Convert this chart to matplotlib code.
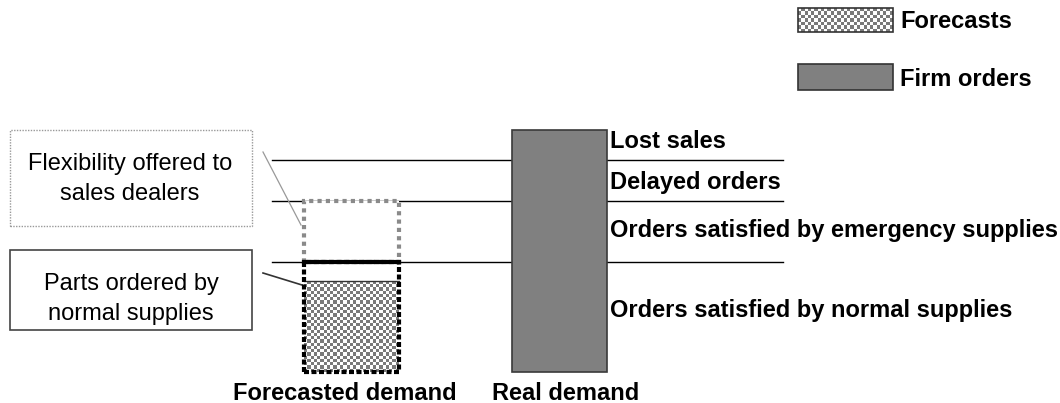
import numpy as np
import matplotlib
matplotlib.use("Agg")
import matplotlib.pyplot as plt
from matplotlib.patches import Rectangle

plt.rcParams['font.family'] = ['Liberation Sans', 'DejaVu Sans']

# ---- data (levels measured from the bar baseline) ----
categories = ["Forecasted demand", "Real demand"]
forecast_checkered = 91      # parts ordered by normal supplies (forecast part)
parts_ordered = 110          # normal supply level
flexibility_top = 171        # flexibility offered to sales dealers
delayed_limit = 212          # upper limit for delayed orders
real_demand = 242            # firm orders
level_labels = ["Lost sales", "Delayed orders",
                "Orders satisfied by emergency supplies",
                "Orders satisfied by normal supplies"]
legend_labels = ["Forecasts", "Firm orders"]
box_labels = ["Flexibility offered to\nsales dealers", "Parts ordered by\nnormal supplies"]

W, H = 1060, 403
base_px = 372
fig = plt.figure(figsize=(W / 100, H / 100), dpi=100)
ax = fig.add_axes([0, 0, 1, 1])
ax.set_xlim(0, W)
ax.set_ylim(base_px - H, base_px)
ax.axis('off')

def py(p):  # pixel-row to data
    return base_px - p

FS = 17
gray = '#808080'
bar_x = [351.5, 559.5]
bar_w = 95

def checker(x0, x1, y0, y1, cell=3.3, clip=None):
    nx = int(round((x1 - x0) / cell)); ny = int(round((y1 - y0) / cell))
    img = (np.add.outer(np.arange(ny), np.arange(nx)) % 2).astype(float)
    im = ax.imshow(img, cmap=matplotlib.colors.ListedColormap(['white', '#7a7a7a']),
                   extent=[x0, x1, y0, y1], interpolation='nearest', aspect='auto', zorder=2)
    if clip is not None:
        im.set_clip_path(clip)
    return im

# horizontal level lines
for lvl in [delayed_limit, flexibility_top, parts_ordered]:
    ax.plot([272, 783], [lvl, lvl], color='black', lw=1, zorder=1)

# real demand bar
ax.bar(bar_x[1], real_demand, width=bar_w, bottom=0, color=gray,
       edgecolor='#3a3a3a', lw=1.2, zorder=3)

# forecast bar: flexibility part (dotted gray outline)
fx0 = bar_x[0] - bar_w / 2
ax.bar(bar_x[0], flexibility_top - parts_ordered, width=bar_w, bottom=parts_ordered,
       color='white', edgecolor='#8a8a8a', lw=3, linestyle=(0, (1, 1)), zorder=3)
# checkered forecast part
b = ax.bar(bar_x[0], forecast_checkered, width=bar_w, bottom=0, color='white',
           edgecolor='none', zorder=2)
checker(fx0, fx0 + bar_w, 0, forecast_checkered, clip=b.patches[0])
ax.plot([fx0, fx0 + bar_w], [forecast_checkered] * 2, color='#333333', lw=1, zorder=4)
# outline of parts ordered (dashed black)
ax.bar(bar_x[0], parts_ordered, width=bar_w, bottom=0, color='none',
       edgecolor='black', lw=3, linestyle=(0, (1.2, 0.6)), zorder=4)
ax.plot([fx0, fx0 + bar_w], [parts_ordered] * 2, color='black', lw=3, zorder=5)

# right labels
lab_y = [py(142), py(183), py(231), py(311)]
for t, y in zip(level_labels, lab_y):
    ax.text(610, y, t, fontsize=FS, fontweight='bold', va='center', ha='left')

# bottom category labels
ax.text(345, py(393), categories[0], fontsize=FS, fontweight='bold', ha='center', va='center')
ax.text(566, py(393), categories[1], fontsize=FS, fontweight='bold', ha='center', va='center')

# annotation boxes
ax.add_patch(Rectangle((10, py(226)), 242, 96, fill=False, edgecolor='#999999',
                       lw=1, linestyle=(0, (1, 1)), zorder=2))
ax.add_patch(Rectangle((10, py(330)), 242, 80, fill=False, edgecolor='#444444',
                       lw=1.2, zorder=2))
ax.text(130, py(179), box_labels[0], fontsize=FS, ha='center', va='center', linespacing=1.5)
ax.text(131, py(299), box_labels[1], fontsize=FS, ha='center', va='center', linespacing=1.45)
ax.plot([263, 301], [py(152), py(225)], color='#999999', lw=0.9, zorder=2)
ax.plot([263, 302], [py(273), py(285)], color='#333333', lw=1.2, zorder=2)

# legend
lg = Rectangle((798, py(32)), 95, 24, facecolor='none', edgecolor='#333333', lw=1.2, zorder=4)
ax.add_patch(lg)
checker(798, 893, py(32), py(8))
ax.add_patch(Rectangle((798, py(90)), 95, 26, facecolor=gray, edgecolor='#333333', lw=1.2, zorder=4))
ax.text(900, py(21), legend_labels[0], fontsize=FS, fontweight='bold', va='center')
ax.text(900, py(79), legend_labels[1], fontsize=FS, fontweight='bold', va='center')

fig.savefig('out.png', dpi=100)
